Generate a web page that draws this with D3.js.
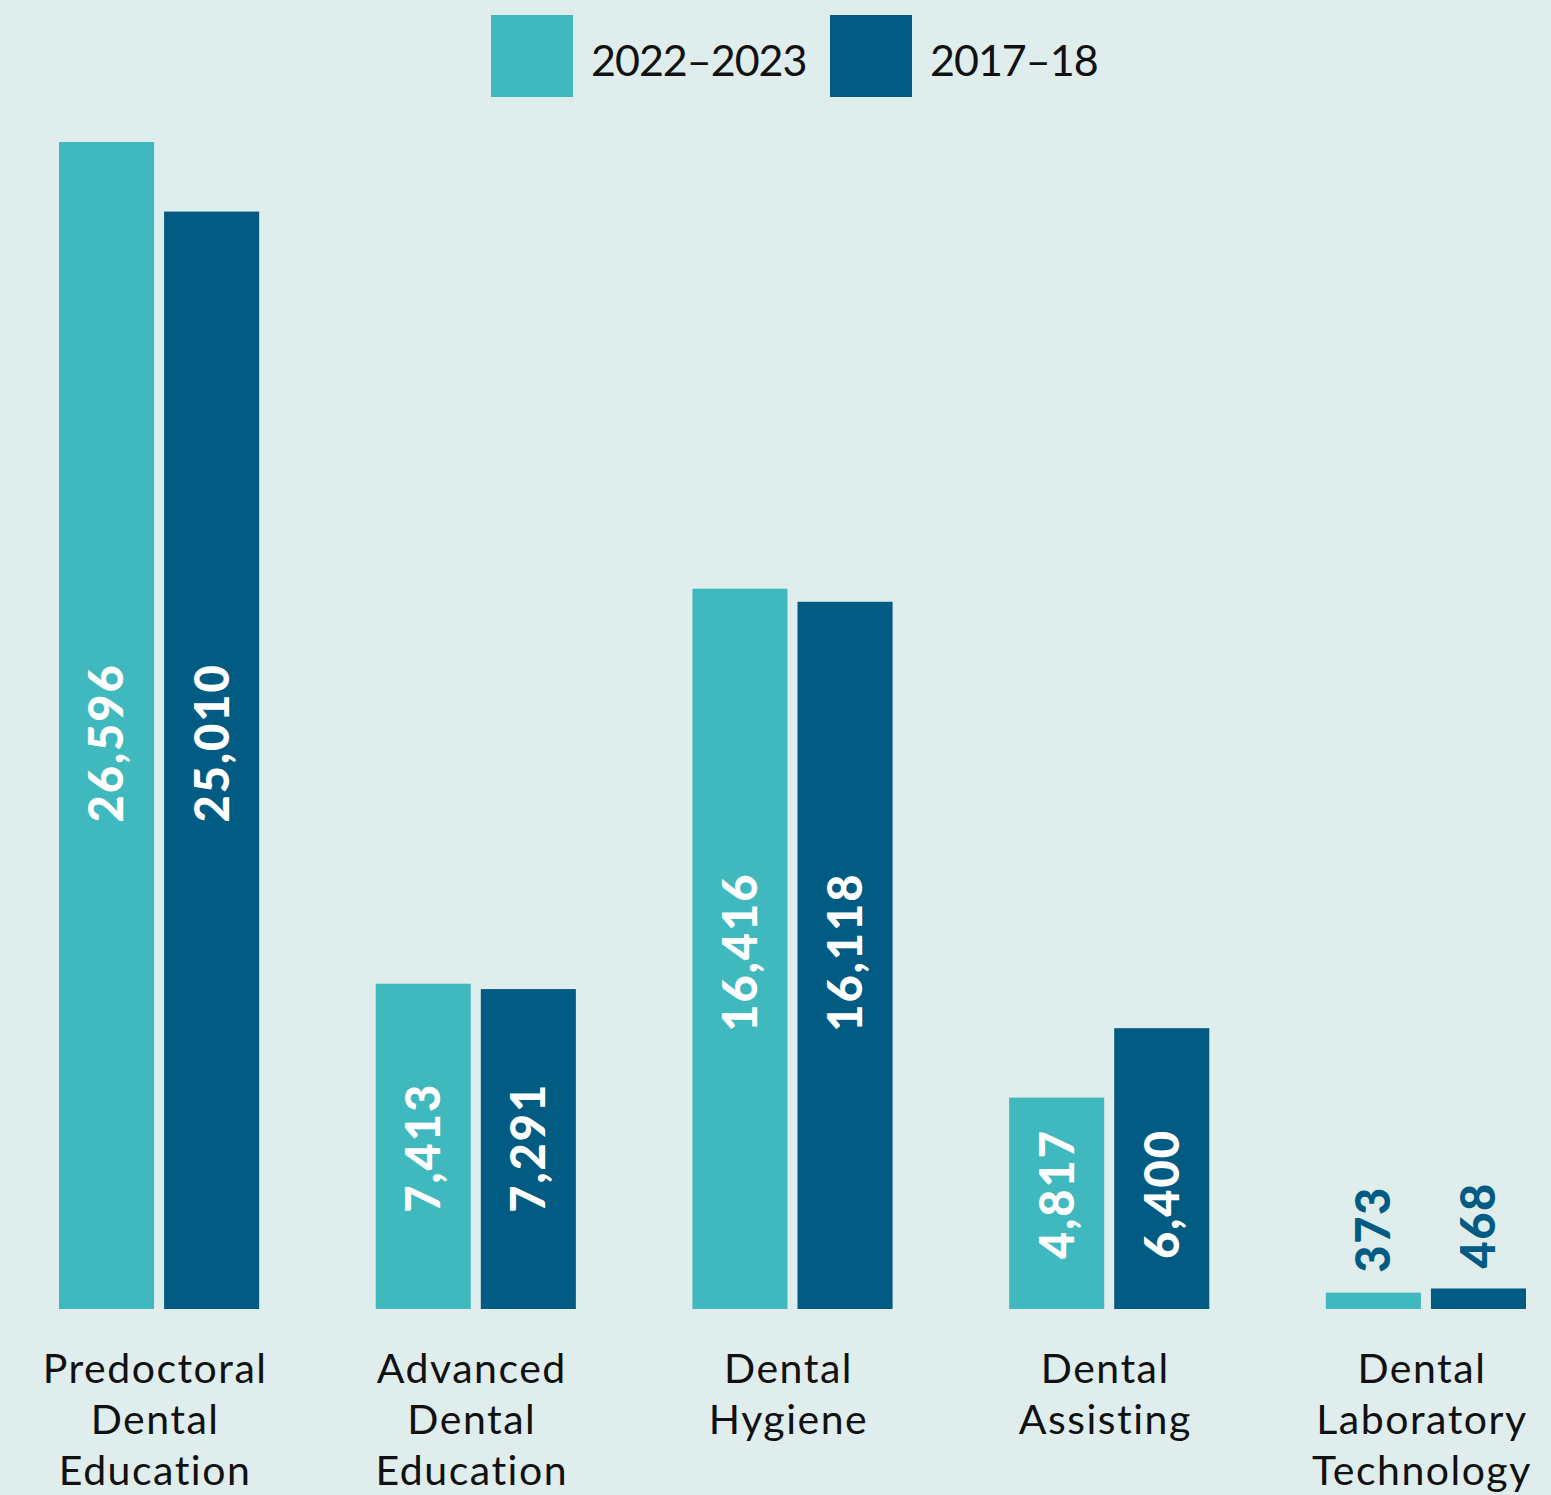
<!DOCTYPE html>
<html>
<head>
<meta charset="utf-8">
<script src="https://cdn.jsdelivr.net/npm/d3@7"></script>
<style>
html,body{margin:0;padding:0;background:#e0eded;}
svg{display:block;}
</style>
</head>
<body>
<svg id="chart" width="1551" height="1495"></svg>
<script>
const categories = ["Predoctoral Dental Education","Advanced Dental Education","Dental Hygiene","Dental Assisting","Dental Laboratory Technology"];
const categoryLines = [["Predoctoral","Dental","Education"],["Advanced","Dental","Education"],["Dental","Hygiene"],["Dental","Assisting"],["Dental","Laboratory","Technology"]];
const seriesNames = ["2022–2023","2017–18"];
const values2022 = [26596, 7413, 16416, 4817, 373];
const values2017 = [25010, 7291, 16118, 6400, 468];
const colors = ["#40b9be","#015b82"];

const svg = d3.select("#chart");
const W = 1551, H = 1495;
svg.append("rect").attr("width",W).attr("height",H).attr("fill","#e0eded");

const baseline = 1309, topY = 142;
const x0 = d3.scaleBand().domain(categories).range([59,1526]).paddingInner(0.368).paddingOuter(0);
const x1 = d3.scaleBand().domain(seriesNames).range([0,x0.bandwidth()]).paddingInner(10/105).paddingOuter(0);
const y = d3.scaleLinear().domain([0, d3.max(values2022.concat(values2017))]).range([baseline, topY]);
const color = d3.scaleOrdinal().domain(seriesNames).range(colors);

const data = categories.map((c,i)=>({cat:c, lines:categoryLines[i], vals:[
  {s:seriesNames[0], v:values2022[i]},
  {s:seriesNames[1], v:values2017[i]}
]}));

const font = "Lato, 'Noto Sans', sans-serif";

const g = svg.selectAll("g.grp").data(data).join("g").attr("class","grp")
  .attr("transform", d=>`translate(${x0(d.cat)},0)`);

g.selectAll("rect").data(d=>d.vals).join("rect")
  .attr("x", d=>x1(d.s)).attr("width", x1.bandwidth())
  .attr("y", d=>y(d.v)).attr("height", d=>baseline - y(d.v))
  .attr("fill", d=>color(d.s));

// value labels
g.each(function(d){
  const grp = d3.select(this);
  const inside = d.vals.every(v=>v.v > 2000);
  const midY = d3.mean(d.vals, v=>(y(v.v)+baseline)/2) + (d.vals[0].v < 6000 ? 8 : 0);
  d.vals.forEach(v=>{
    const cx = x1(v.s) + x1.bandwidth()/2;
    const label = d3.format(",")(v.v);
    if (inside) {
      grp.append("text")
        .attr("transform", `translate(${cx},${midY}) rotate(-90)`)
        .attr("text-anchor","middle").attr("dy","0.36em")
        .attr("fill","#ffffff").attr("font-family",font).attr("font-weight",900)
        .attr("font-size",47).attr("letter-spacing",2)
        .text(label);
    } else {
      grp.append("text")
        .attr("transform", `translate(${cx},${y(v.v)-20}) rotate(-90)`)
        .attr("text-anchor","start").attr("dy","0.36em")
        .attr("fill",colors[1]).attr("font-family",font).attr("font-weight",900)
        .attr("font-size",47).attr("letter-spacing",1.5)
        .text(label);
    }
  });
});

// category labels
g.each(function(d){
  const t = d3.select(this).append("text")
    .attr("text-anchor","middle").attr("font-family",font)
    .attr("font-size",41).attr("fill","#111").attr("letter-spacing",1.5);
  d.lines.forEach((ln,i)=>{
    t.append("tspan").attr("x", x0.bandwidth()/2 - 4).attr("y", 1383 + i*51).text(ln);
  });
});

// legend
const legend = svg.append("g");
const legX = [491, 830];
seriesNames.forEach((s,i)=>{
  legend.append("rect").attr("x",legX[i]).attr("y",15).attr("width",82).attr("height",82).attr("fill",color(s));
  legend.append("text").attr("x",legX[i]+100).attr("y",76)
    .attr("font-family",font).attr("font-size",43).attr("fill","#111").attr("letter-spacing",-1)
    .text(s);
});
</script>
</body>
</html>
